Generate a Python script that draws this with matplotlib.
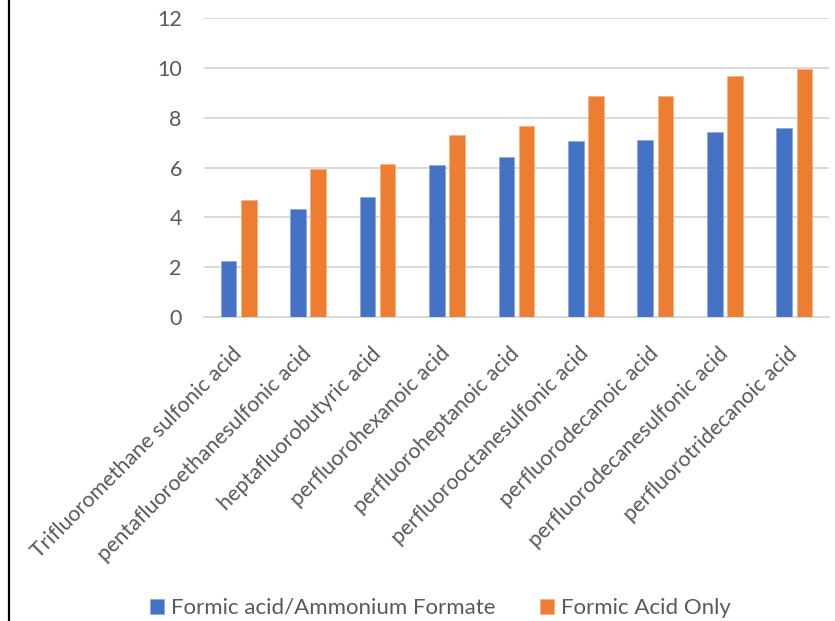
import numpy as np
import matplotlib.pyplot as plt
import matplotlib.transforms as mtransforms
from matplotlib.lines import Line2D

plt.rcParams['font.family'] = ['Lato', 'DejaVu Sans']

compounds = ['Trifluoromethane sulfonic acid', 'pentafluoroethanesulfonic acid',
             'heptafluorobutyric acid', 'perfluorohexanoic acid',
             'perfluoroheptanoic acid', 'perfluorooctanesulfonic acid',
             'perfluorodecanoic acid', 'perfluorodecanesulfonic acid',
             'perfluorotridecanoic acid']
formic_ammonium = [2.24, 4.34, 4.82, 6.1, 6.43, 7.07, 7.12, 7.42, 7.6]
formic_only = [4.7, 5.93, 6.15, 7.3, 7.67, 8.86, 8.86, 9.67, 9.95]

x = np.arange(len(compounds))
width = 0.225
offset = 0.145

fig = plt.figure(figsize=(8.35, 6.21), dpi=100)
ax = fig.add_axes([0.2443, 0.4895, 0.7485, 0.4815])

ax.bar(x - offset, formic_ammonium, width, color='#4472C4', edgecolor='#8faadc',
       linewidth=0.6, label='Formic acid/Ammonium Formate', zorder=3)
ax.bar(x + offset, formic_only, width, color='#ED7D31', edgecolor='#f4b183',
       linewidth=0.6, label='Formic Acid Only', zorder=3)

ax.set_xlim(-0.5, len(compounds) - 0.5)
ax.set_ylim(0, 12)
ax.set_yticks(np.arange(0, 13, 2))
ax.yaxis.grid(True, color='#d9d9d9', linewidth=1.4, zorder=0)
ax.set_axisbelow(True)
for side in ['top', 'right', 'left']:
    ax.spines[side].set_visible(False)
ax.spines['bottom'].set_color('#d9d9d9')
ax.spines['bottom'].set_linewidth(1.4)
ax.tick_params(axis='both', length=0, labelsize=15.5, labelcolor='#595959')
ax.tick_params(axis='y', pad=16)
ax.tick_params(axis='x', pad=19)
ax.set_xticks(x)
ax.set_xticklabels(compounds, rotation=45, ha='right', rotation_mode='anchor')

# nudge the slanted category labels a little to the left
shift = mtransforms.ScaledTranslation(-7 / 100, 0, fig.dpi_scale_trans)
for lbl in ax.get_xticklabels():
    lbl.set_transform(lbl.get_transform() + shift)

ax.legend(loc='center', bbox_to_anchor=(0.5275, 0.021),
          bbox_transform=fig.transFigure, ncol=2, frameon=False, fontsize=16,
          labelcolor='#595959', handlelength=0.65, handleheight=0.65,
          handletextpad=0.3, columnspacing=2.0)

# thin border line on the left edge
fig.add_artist(Line2D([9 / 835, 9 / 835], [0, 1], color='black', linewidth=1.6,
                      transform=fig.transFigure))

fig.savefig('out.png', dpi=100)
